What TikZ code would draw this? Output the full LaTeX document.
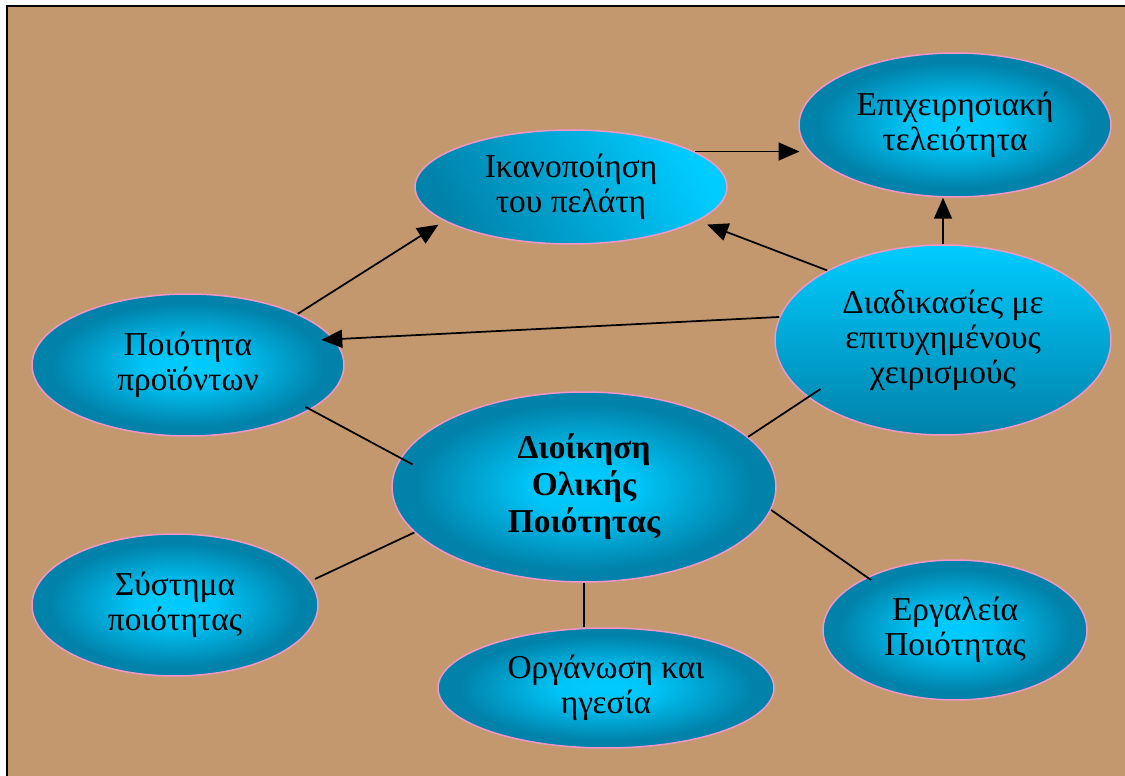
\documentclass[tikz,border=0pt]{standalone}
\usepackage{fontspec}
\setmainfont{Liberation Serif}
\usetikzlibrary{shapes.geometric,arrows.meta}

\definecolor{cybright}{RGB}{0,204,255}
\definecolor{cydark}{RGB}{0,130,170}
\definecolor{rim}{RGB}{240,150,200}
\definecolor{canvas}{RGB}{196,152,110}

% bright centre fading to a dark teal rim
\pgfdeclareradialshading{glow}{\pgfpoint{0bp}{0bp}}{%
  color(0bp)=(cybright); color(7bp)=(cybright!90!cydark);
  color(22bp)=(cydark); color(50bp)=(cydark)}

\begin{document}
\begin{tikzpicture}[x=0.02cm,y=-0.02cm,
  bubble/.style={ellipse, draw=rim, line width=0.03cm, inner sep=0pt,
    align=center, font=\fontsize{19}{20}\selectfont, shade, shading=glow},
  link/.style={line width=0.035cm},
  arrow/.style={link, -{Triangle[length=0.42cm,width=0.36cm]}}]

\useasboundingbox (0,0) rectangle (1125,776);
\fill[white] (0,0) rectangle (1125,776);
\fill[canvas] (7,6) rectangle (1125,776);
\draw[line width=0.04cm] (7,776) -- (7,6) -- (1125,6);

\node[bubble, minimum width=6.24cm, minimum height=2.28cm,
      top color=cybright, bottom color=cydark, shading angle=-60]
  (sat) at (571,187) {Ικανοποίηση\\του πελάτη};
\node[bubble, minimum width=6.24cm, minimum height=2.88cm]
  (exc) at (955,125) {Επιχειρησιακή\\τελειότητα};
\node[bubble, minimum width=6.24cm, minimum height=2.84cm]
  (prod) at (188,365) {Ποιότητα\\προϊόντων};
\node[bubble, minimum width=6.72cm, minimum height=3.8cm,
      top color=cybright, bottom color=cydark]
  (proc) at (943,340) {Διαδικασίες με\\επιτυχημένους\\χειρισμούς};
\node[bubble, minimum width=7.68cm, minimum height=3.8cm,
      font=\fontsize{19}{21}\selectfont\bfseries]
  (tqm) at (584,487) {Διοίκηση\\Ολικής\\Ποιότητας};
\node[bubble, minimum width=5.72cm, minimum height=2.84cm]
  (sys) at (175,605) {Σύστημα\\ποιότητας};
\node[bubble, minimum width=6.72cm, minimum height=2.4cm]
  (org) at (606,688) {Οργάνωση και\\ηγεσία};
\node[bubble, minimum width=5.28cm, minimum height=2.8cm]
  (tools) at (955,630) {Εργαλεία\\Ποιότητας};

% arrows between the outcomes
\draw[arrow, shorten >=0.18cm] (sat.16) -- (sat.16 -| exc.190);
\draw[arrow, shorten >=0.14cm] (prod.25) -- (sat.195);
\draw[arrow, shorten >=0.2cm] (proc.149) -- (sat.-15);
\draw[arrow, shorten >=-0.26cm] (proc.172) -- (prod.10);
\draw[arrow] (proc.north) -- (proc.north |- exc.south);

% links from the central concept
\draw[link, shorten <=-0.12cm, shorten >=-0.28cm] (prod.-20) -- (tqm.171);
\draw[link, shorten >=-0.3cm] (tqm.17) -- (proc.203);
\draw[link, shorten >=0.1cm] (tqm.195) -- (sys.10);
\draw[link] (tqm.south) -- (tqm.south |- org.north);
\draw[link, shorten >=-0.1cm] (tqm.-7) -- (tools.149);
\end{tikzpicture}
\end{document}
